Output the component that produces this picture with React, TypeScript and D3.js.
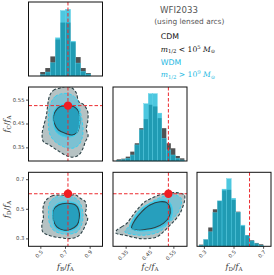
import React from "react";
import * as d3 from "d3";

const W = 274, H = 275;

// ---------- data ----------
const fBDomain: [number, number] = [0.4, 1.0];
const fCDomain: [number, number] = [0.295, 0.605];
const fDDomain: [number, number] = [0.25, 0.75];

const fBTicks = [0.5, 0.7, 0.9];
const fCTicks = [0.35, 0.45, 0.55];
const fDTicks = [0.3, 0.5, 0.7];
const fBTickLabels = ["0.5", "0.7", "0.9"];
const fCTickLabels = ["0.35", "0.45", "0.55"];
const fDTickLabels = ["0.3", "0.5", "0.7"];

const truthFB = 0.72;
const truthFC = 0.527;
const truthFD = 0.605;

// histograms (bin start, bin width, counts)
const fBBinStart = 0.495, fBBinWidth = 0.041;
const cdmFB = [12, 24, 59, 110, 161, 161, 102, 57, 24, 9];
const wdmFB = [4, 12, 40, 115, 197, 201, 105, 39, 14, 6];
const fBHistMax = 223;

const fCBinStart = 0.3105, fCBinWidth = 0.0189;
const cdmFC = [5, 7, 13, 28, 53, 98, 125, 168, 163, 128, 98, 53, 38, 15, 8];
const wdmFC = [2, 4, 8, 18, 48, 93, 171, 201, 201, 143, 68, 33, 18, 8, 3];
const fCHistMax = 221;

const fDBinStart = 0.264, fDBinWidth = 0.031;
const cdmFD = [5, 20, 56, 110, 135, 166, 168, 138, 103, 60, 33, 18, 10, 6];
const wdmFD = [3, 20, 43, 100, 135, 170, 201, 143, 101, 63, 33, 16, 8, 3];
const fDHistMax = 220;

// 2D credible contours [x, y] in data units
const cdm95BC: [number, number][] = [
  [0.575, 0.573], [0.602, 0.591], [0.657, 0.601], [0.712, 0.608], [0.753, 0.601], [0.788, 0.58],
  [0.807, 0.544], [0.847, 0.531], [0.88, 0.502], [0.88, 0.46], [0.869, 0.428], [0.883, 0.4],
  [0.861, 0.376], [0.842, 0.348], [0.807, 0.32], [0.753, 0.311], [0.698, 0.32], [0.63, 0.341],
  [0.57, 0.362], [0.521, 0.376], [0.51, 0.404], [0.521, 0.439], [0.543, 0.481], [0.553, 0.517], [0.562, 0.552],
];
const wdm95BC: [number, number][] = [
  [0.575, 0.531], [0.616, 0.565], [0.671, 0.577], [0.725, 0.577], [0.771, 0.565], [0.807, 0.538],
  [0.82, 0.502], [0.834, 0.467], [0.842, 0.425], [0.834, 0.39], [0.807, 0.362], [0.753, 0.348],
  [0.684, 0.355], [0.616, 0.376], [0.575, 0.404], [0.562, 0.439], [0.562, 0.481],
];
const cdm68BC: [number, number][] = [
  [0.616, 0.502], [0.657, 0.523], [0.712, 0.526], [0.766, 0.523], [0.807, 0.502], [0.815, 0.475],
  [0.812, 0.439], [0.793, 0.414], [0.753, 0.404], [0.698, 0.411], [0.643, 0.425], [0.608, 0.454], [0.602, 0.481],
];
const wdm68BC: [number, number][] = [
  [0.602, 0.496], [0.635, 0.523], [0.698, 0.535], [0.766, 0.531], [0.807, 0.51], [0.815, 0.475],
  [0.807, 0.433], [0.78, 0.404], [0.725, 0.395], [0.671, 0.4], [0.624, 0.418], [0.602, 0.454],
];

const cdm95BD: [number, number][] = [
  [0.549, 0.568], [0.589, 0.59], [0.657, 0.597], [0.712, 0.592], [0.78, 0.597], [0.82, 0.575],
  [0.861, 0.551], [0.869, 0.507], [0.861, 0.473], [0.88, 0.439], [0.861, 0.393], [0.834, 0.347],
  [0.793, 0.313], [0.725, 0.302], [0.671, 0.307], [0.616, 0.313], [0.562, 0.325], [0.516, 0.347],
  [0.508, 0.393], [0.521, 0.449], [0.516, 0.495], [0.527, 0.541],
];
const wdm95BD: [number, number][] = [
  [0.57, 0.541], [0.616, 0.581], [0.684, 0.585], [0.753, 0.585], [0.807, 0.558], [0.834, 0.507],
  [0.842, 0.449], [0.829, 0.393], [0.793, 0.347], [0.725, 0.332], [0.657, 0.337], [0.602, 0.359],
  [0.57, 0.405], [0.562, 0.473],
];
const cdm68BD: [number, number][] = [
  [0.602, 0.495], [0.643, 0.529], [0.712, 0.541], [0.78, 0.529], [0.807, 0.495], [0.812, 0.439],
  [0.793, 0.393], [0.739, 0.364], [0.684, 0.359], [0.63, 0.381], [0.602, 0.427],
];
const wdm68BD: [number, number][] = [
  [0.602, 0.507], [0.643, 0.541], [0.712, 0.551], [0.78, 0.541], [0.815, 0.507], [0.82, 0.439],
  [0.798, 0.381], [0.739, 0.354], [0.671, 0.354], [0.616, 0.377], [0.598, 0.439],
];

const cdm95CD: [number, number][] = [
  [0.3105, 0.359], [0.331, 0.381], [0.352, 0.404], [0.373, 0.449], [0.401, 0.507], [0.429, 0.551],
  [0.464, 0.581], [0.499, 0.602], [0.534, 0.611], [0.569, 0.611], [0.594, 0.597], [0.594, 0.551],
  [0.585, 0.507], [0.576, 0.473], [0.555, 0.427], [0.534, 0.393], [0.506, 0.347], [0.478, 0.313],
  [0.443, 0.302], [0.408, 0.302], [0.373, 0.313], [0.345, 0.325], [0.317, 0.332], [0.306, 0.341],
];
const wdm95CD: [number, number][] = [
  [0.345, 0.347], [0.366, 0.393], [0.394, 0.461], [0.429, 0.517], [0.471, 0.563], [0.513, 0.59],
  [0.555, 0.597], [0.58, 0.575], [0.58, 0.529], [0.569, 0.483], [0.548, 0.439], [0.52, 0.393],
  [0.494, 0.354], [0.457, 0.332], [0.415, 0.325], [0.373, 0.332],
];
const cdm68CD: [number, number][] = [
  [0.373, 0.371], [0.387, 0.427], [0.415, 0.483], [0.45, 0.529], [0.492, 0.551], [0.52, 0.545],
  [0.534, 0.507], [0.53, 0.449], [0.506, 0.405], [0.471, 0.377], [0.429, 0.364], [0.394, 0.359],
];
const wdm68CD: [number, number][] = [
  [0.366, 0.381], [0.384, 0.449], [0.415, 0.507], [0.457, 0.545], [0.499, 0.563], [0.53, 0.551],
  [0.543, 0.507], [0.538, 0.439], [0.513, 0.393], [0.471, 0.364], [0.429, 0.354], [0.387, 0.359],
];

const titleText = "WFI2033";
const subtitleText = "(using lensed arcs)";
const modelNames = ["CDM", "WDM"];
const massOps = ["<", ">"];
const massExps = ["5", "9"];

// ---------- layout / style ----------
const colX = [28.5, 113, 197];
const rowY = [2, 87, 172.3];
const S = 74;
const CYAN = "#22b8e2";
const RED = "#ec2a2e";
const DARK = "#2c4247";

const domains = [fBDomain, fCDomain, fDDomain];
const ticks = [fBTicks, fCTicks, fDTicks];
const tickLabels = [fBTickLabels, fCTickLabels, fDTickLabels];
const truths = [truthFB, truthFC, truthFD];
const subs = ["B", "C", "D"];
const hists = [
  { start: fBBinStart, w: fBBinWidth, cdm: cdmFB, wdm: wdmFB, max: fBHistMax },
  { start: fCBinStart, w: fCBinWidth, cdm: cdmFC, wdm: wdmFC, max: fCHistMax },
  { start: fDBinStart, w: fDBinWidth, cdm: cdmFD, wdm: wdmFD, max: fDHistMax },
];
const contours: Record<string, [number, number][][]> = {
  "1-0": [cdm95BC, cdm68BC, wdm95BC, wdm68BC],
  "2-0": [cdm95BD, cdm68BD, wdm95BD, wdm68BD],
  "2-1": [cdm95CD, cdm68CD, wdm95CD, wdm68CD],
};

const xs = (v: number) => d3.scaleLinear().domain(domains[v]).range([colX[v], colX[v] + S]);
const ys = (v: number) => d3.scaleLinear().domain(domains[v]).range([rowY[v] + S, rowY[v]]);

function FracLabel({ x, y, sub, rotate }: { x: number; y: number; sub: string; rotate?: boolean }) {
  return (
    <text
      x={x}
      y={y}
      textAnchor="middle"
      fontFamily="DejaVu Serif"
      fontSize={8}
      fill="#333"
      transform={rotate ? `rotate(-90 ${x} ${y})` : undefined}
    >
      <tspan fontStyle="italic">f</tspan>
      <tspan fontSize={5.6} dy={1.6}>{sub}</tspan>
      <tspan dy={-1.6}>/</tspan>
      <tspan fontStyle="italic">f</tspan>
      <tspan fontSize={5.6} dy={1.6}>A</tspan>
    </text>
  );
}

function Hist({ v }: { v: number }) {
  const x = xs(v);
  const h = hists[v];
  const y = d3.scaleLinear().domain([0, h.max]).range([rowY[v] + S, rowY[v]]);
  const bars = (arr: number[], fill: string, op: number, stroke?: string) =>
    arr.map((c, i) => {
      const a = h.start + i * h.w;
      const b = a + h.w;
      return (
        <rect
          key={i}
          x={x(a)}
          width={x(b) - x(a)}
          y={y(c)}
          height={y(0) - y(c)}
          fill={fill}
          fillOpacity={op}
          stroke={stroke || "none"}
          strokeWidth={0.4}
        />
      );
    });
  return (
    <g>
      {bars(h.cdm, "#3a3a3a", 0.88)}
      {bars(h.wdm, "#10b4d4", 0.75, "#5ccfe6")}
      <line x1={x(truths[v])} x2={x(truths[v])} y1={rowY[v]} y2={rowY[v] + S} stroke={RED} strokeWidth={1} strokeDasharray="3.5,2" />
    </g>
  );
}

function Panel2D({ r, c }: { r: number; c: number }) {
  const x = xs(c);
  const y = ys(r);
  const line = d3
    .line<[number, number]>()
    .x((d) => x(d[0]))
    .y((d) => y(d[1]))
    .curve(d3.curveCatmullRomClosed.alpha(0.5));
  const [c95, c68, w95, w68] = contours[`${r}-${c}`];
  const id = `clip-${r}-${c}`;
  return (
    <g>
      <clipPath id={id}>
        <rect x={colX[c]} y={rowY[r]} width={S} height={S} />
      </clipPath>
      <g clipPath={`url(#${id})`}>
        <path d={line(c95) || ""} fill="#b6c2c3" />
        <path d={line(c68) || ""} fill="#4a6a70" />
        <path d={line(w95) || ""} fill="#2fc0e8" fillOpacity={0.42} />
        <path d={line(w68) || ""} fill="#10b0d8" fillOpacity={0.5} />
        <path d={line(c95) || ""} fill="none" stroke={DARK} strokeWidth={1.1} strokeDasharray="3,1.8" />
        <path d={line(c68) || ""} fill="none" stroke={DARK} strokeWidth={1.1} />
        <path d={line(w95) || ""} fill="none" stroke="#36d2f2" strokeWidth={1.0} strokeDasharray="3,1.8" />
        <path d={line(w68) || ""} fill="none" stroke="#36d2f2" strokeWidth={1.0} />
        <line x1={x(truths[c])} x2={x(truths[c])} y1={rowY[r]} y2={rowY[r] + S} stroke={RED} strokeWidth={1} strokeDasharray="3.5,2" />
        <line x1={colX[c]} x2={colX[c] + S} y1={y(truths[r])} y2={y(truths[r])} stroke={RED} strokeWidth={1} strokeDasharray="3.5,2" />
        <circle cx={x(truths[c])} cy={y(truths[r])} r={4.2} fill="#f01c22" />
      </g>
    </g>
  );
}

export default function App() {
  const frames: JSX.Element[] = [];
  for (let r = 0; r < 3; r++)
    for (let c = 0; c <= r; c++)
      frames.push(
        <rect key={`f${r}${c}`} x={colX[c]} y={rowY[r]} width={S} height={S} fill="none" stroke="#111" strokeWidth={1} />
      );
  const bottom = rowY[2] + S;
  return (
    <svg width={W} height={H} style={{ position: "absolute", left: 0, top: 0, background: "#fff" }}>
      <rect width={W} height={H} fill="#fff" />
      {[0, 1, 2].map((v) => (
        <Hist key={`h${v}`} v={v} />
      ))}
      <Panel2D r={1} c={0} />
      <Panel2D r={2} c={0} />
      <Panel2D r={2} c={1} />
      {frames}
      {/* bottom axes */}
      {[0, 1, 2].map((c) => {
        const x = xs(c);
        return (
          <g key={`bx${c}`}>
            {ticks[c].map((t, i) => (
              <g key={i}>
                <line x1={x(t)} x2={x(t)} y1={bottom} y2={bottom + 2.5} stroke="#222" strokeWidth={0.8} />
                <text
                  x={x(t) + 1.5}
                  y={bottom + 5}
                  fontFamily="DejaVu Sans"
                  fontSize={5.3}
                  fill="#444"
                  textAnchor="end"
                  dominantBaseline="middle"
                  transform={`rotate(-45 ${x(t) + 1.5} ${bottom + 5})`}
                >
                  {tickLabels[c][i]}
                </text>
              </g>
            ))}
            <FracLabel x={colX[c] + S / 2} y={269} sub={subs[c]} />
          </g>
        );
      })}
      {/* left axes */}
      {[1, 2].map((r) => {
        const y = ys(r);
        return (
          <g key={`ly${r}`}>
            {ticks[r].map((t, i) => (
              <g key={i}>
                <line x1={colX[0] - 2.5} x2={colX[0]} y1={y(t)} y2={y(t)} stroke="#222" strokeWidth={0.8} />
                <text x={colX[0] - 4} y={y(t)} fontFamily="DejaVu Sans" fontSize={5.3} fill="#444" textAnchor="end" dominantBaseline="middle">
                  {tickLabels[r][i]}
                </text>
              </g>
            ))}
            <FracLabel x={9} y={rowY[r] + S / 2} sub={subs[r]} rotate />
          </g>
        );
      })}
      {/* legend text */}
      <text x={179} y={13.3} textAnchor="middle" fontFamily="DejaVu Sans" fontSize={8.6} fill="#555">
        {titleText}
      </text>
      <text x={189.3} y={24} textAnchor="middle" fontFamily="DejaVu Sans" fontSize={7.4} fill="#555">
        {subtitleText}
      </text>
      {modelNames.map((m, i) => {
        const col = i === 0 ? "#111" : CYAN;
        const y0 = 39.3 + i * 25.7;
        return (
          <g key={m}>
            <text x={160.7} y={y0} fontFamily="DejaVu Sans" fontSize={7.8} fill={col}>
              {m}
            </text>
            <text x={160.7} y={y0 + 12.4} fontFamily="DejaVu Serif" fontSize={7.6} fill={col}>
              <tspan fontStyle="italic">m</tspan>
              <tspan fontSize={5.3} dy={1.6}>1/2</tspan>
              <tspan dy={-1.6}>{` ${massOps[i]} 10`}</tspan>
              <tspan fontSize={5.3} dy={-3}>{massExps[i]}</tspan>
              <tspan dy={3} fontStyle="italic">{" M"}</tspan>
              <tspan fontSize={5.3} dy={1.6}>⊙</tspan>
            </text>
          </g>
        );
      })}
    </svg>
  );
}
